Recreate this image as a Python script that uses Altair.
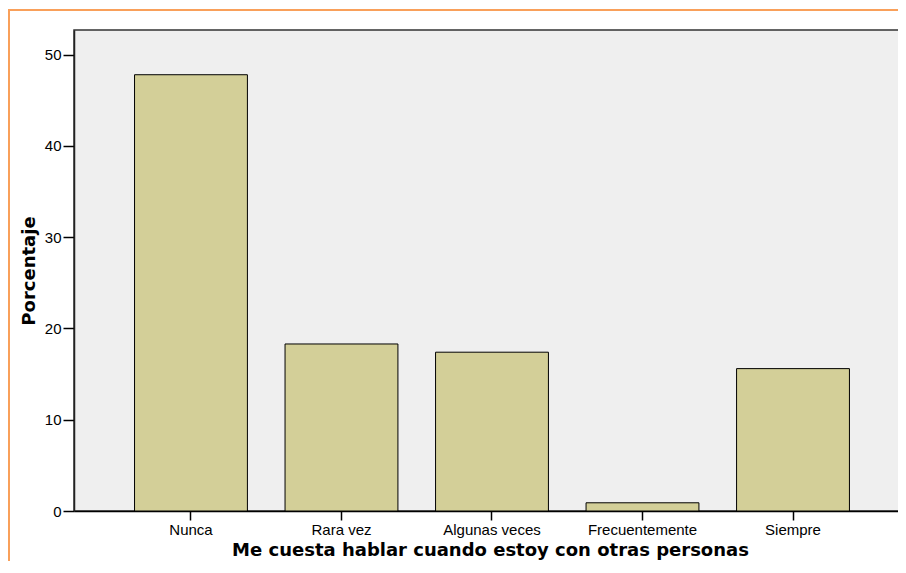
import altair as alt
import pandas as pd

categories = ["Nunca", "Rara vez", "Algunas veces", "Frecuentemente", "Siempre"]
values = [47.8, 18.3, 17.4, 0.9, 15.6]

df = pd.DataFrame({"cat": categories, "pct": values})

bars = alt.Chart(df).mark_bar(
    color="#d3cf98", stroke="#000000", strokeWidth=1
).encode(
    x=alt.X("cat:N", sort=categories,
            scale=alt.Scale(paddingInner=0.25, paddingOuter=0.389, align=0.517),
            axis=alt.Axis(title="Me cuesta hablar cuando estoy con otras personas",
                          labelAngle=0, tickSize=9, labelPadding=2,
                          titlePadding=4, domainColor="#000000", tickColor="#000000",
                          domainWidth=1.5, tickWidth=1.5)),
    y=alt.Y("pct:Q", scale=alt.Scale(domain=[0, 52.7], nice=False, zero=True),
            axis=alt.Axis(title="Porcentaje", values=[0, 10, 20, 30, 40, 50],
                          tickSize=11, labelPadding=2, titlePadding=6,
                          grid=False, domainColor="#222222", tickColor="#000000",
                          domainWidth=1.5, tickWidth=1.5)),
)

frame = alt.Chart(df).mark_rect(
    filled=False, stroke="#f9a05a", strokeWidth=2
).encode(
    x=alt.value(-65), x2=alt.value(900), y=alt.value(-20), y2=alt.value(700)
)

chart = alt.layer(frame, bars).properties(
    width=832, height=481,
    autosize=alt.AutoSizeParams(type="none"),
    padding={"left": 66, "top": 22, "right": -8, "bottom": 50},
    background="#ffffff",
).configure_view(
    fill="#efefef", stroke="#333333", strokeWidth=1.5
).configure_axis(
    labelFont="Liberation Sans", titleFont="DejaVu Sans",
    labelFontSize=15, titleFontSize=18, titleFontWeight="bold",
    labelColor="#000000", titleColor="#000000",
)

chart.save("out.html", embed_options={"renderer": "svg", "actions": False})
